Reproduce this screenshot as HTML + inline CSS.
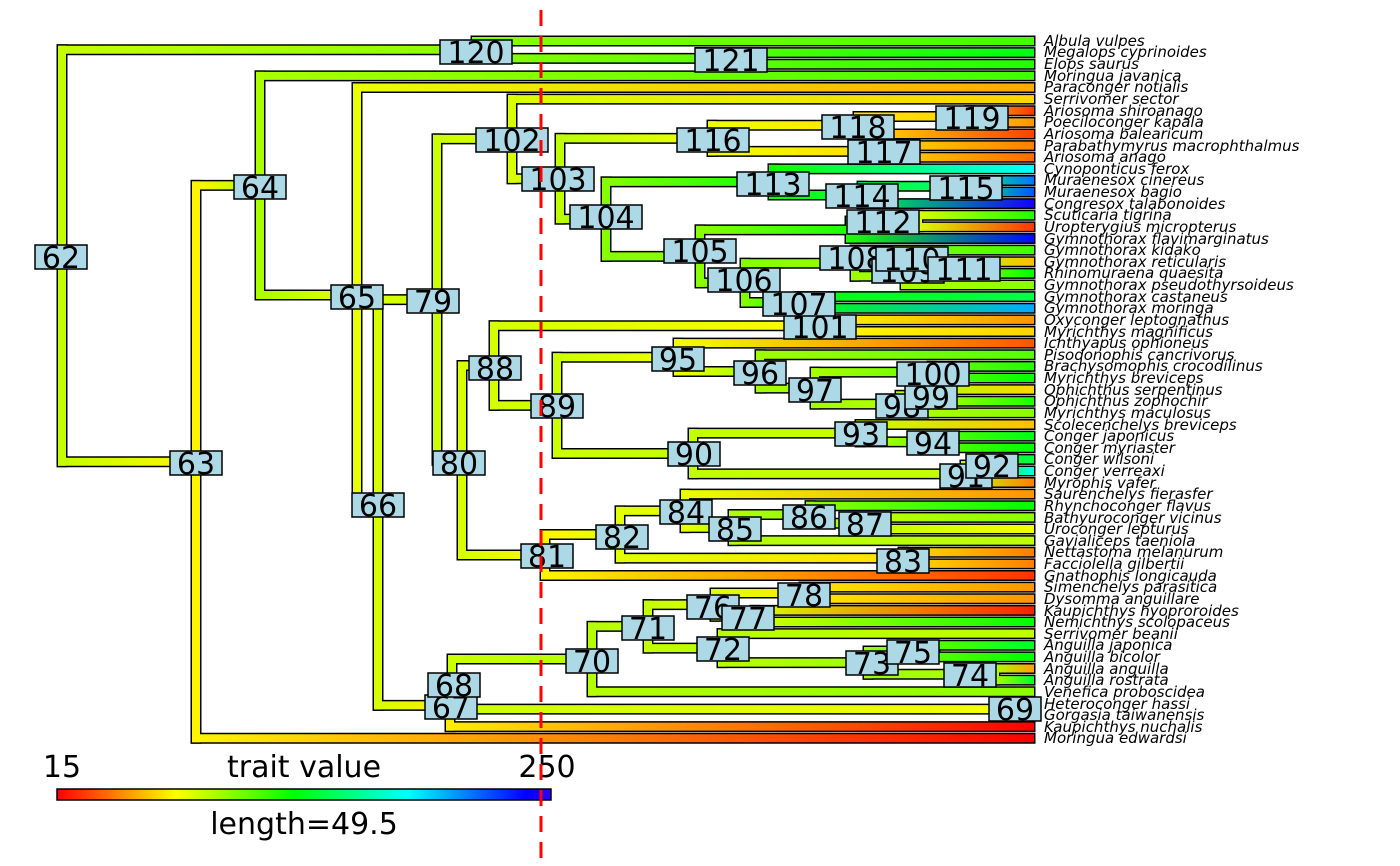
<!DOCTYPE html>
<html><head><meta charset="utf-8">
<style>
html,body{margin:0;padding:0;background:#fff;}
svg{display:block;}
.tl{font-family:"DejaVu Sans","Liberation Sans",sans-serif;font-style:italic;font-size:15px;fill:#000;}
.nl text{font-family:"DejaVu Sans","Liberation Sans",sans-serif;font-size:30px;fill:#000;text-anchor:middle;}
.nl rect{fill:#add8e6;stroke:#000;stroke-width:1.5;}
.bt{font-family:"DejaVu Sans","Liberation Sans",sans-serif;font-size:30px;fill:#000;text-anchor:middle;}
</style></head>
<body>
<svg id="s" width="1400" height="866" viewBox="0 0 1400 866" xmlns="http://www.w3.org/2000/svg">
<defs id="defs">
<linearGradient id="cb" x1="0" x2="1" y1="0" y2="0">
<stop offset="0" stop-color="#ff0000"/><stop offset="0.24" stop-color="#ffff00"/><stop offset="0.48" stop-color="#00ff00"/><stop offset="0.71" stop-color="#00ffff"/><stop offset="0.95" stop-color="#0000ff"/><stop offset="1" stop-color="#2a00ff"/>
</linearGradient>
</defs>
<g id="edges"></g>
<g class="tl">
<text x="1044" y="46">Albula vulpes</text>
<text x="1044" y="57">Megalops cyprinoides</text>
<text x="1044" y="69">Elops saurus</text>
<text x="1044" y="81">Moringua javanica</text>
<text x="1044" y="92">Paraconger notialis</text>
<text x="1044" y="104">Serrivomer sector</text>
<text x="1044" y="116">Ariosoma shiroanago</text>
<text x="1044" y="127">Poeciloconger kapala</text>
<text x="1044" y="139">Ariosoma balearicum</text>
<text x="1044" y="151">Parabathymyrus macrophthalmus</text>
<text x="1044" y="162">Ariosoma anago</text>
<text x="1044" y="174">Cynoponticus ferox</text>
<text x="1044" y="185">Muraenesox cinereus</text>
<text x="1044" y="197">Muraenesox bagio</text>
<text x="1044" y="209">Congresox talabonoides</text>
<text x="1044" y="220">Scuticaria tigrina</text>
<text x="1044" y="232">Uropterygius micropterus</text>
<text x="1044" y="244">Gymnothorax flavimarginatus</text>
<text x="1044" y="255">Gymnothorax kidako</text>
<text x="1044" y="267">Gymnothorax reticularis</text>
<text x="1044" y="278">Rhinomuraena quaesita</text>
<text x="1044" y="290">Gymnothorax pseudothyrsoideus</text>
<text x="1044" y="302">Gymnothorax castaneus</text>
<text x="1044" y="313">Gymnothorax moringa</text>
<text x="1044" y="325">Oxyconger leptognathus</text>
<text x="1044" y="337">Myrichthys magnificus</text>
<text x="1044" y="348">Ichthyapus ophioneus</text>
<text x="1044" y="360">Pisodonophis cancrivorus</text>
<text x="1044" y="371">Brachysomophis crocodilinus</text>
<text x="1044" y="383">Myrichthys breviceps</text>
<text x="1044" y="395">Ophichthus serpentinus</text>
<text x="1044" y="406">Ophichthus zophochir</text>
<text x="1044" y="418">Myrichthys maculosus</text>
<text x="1044" y="430">Scolecenchelys breviceps</text>
<text x="1044" y="441">Conger japonicus</text>
<text x="1044" y="453">Conger myriaster</text>
<text x="1044" y="464">Conger wilsoni</text>
<text x="1044" y="476">Conger verreaxi</text>
<text x="1044" y="488">Myrophis vafer</text>
<text x="1044" y="499">Saurenchelys fierasfer</text>
<text x="1044" y="511">Rhynchoconger flavus</text>
<text x="1044" y="523">Bathyuroconger vicinus</text>
<text x="1044" y="534">Uroconger lepturus</text>
<text x="1044" y="546">Gavialiceps taeniola</text>
<text x="1044" y="557">Nettastoma melanurum</text>
<text x="1044" y="569">Facciolella gilbertii</text>
<text x="1044" y="581">Gnathophis longicauda</text>
<text x="1044" y="592">Simenchelys parasitica</text>
<text x="1044" y="604">Dysomma anguillare</text>
<text x="1044" y="616">Kaupichthys hyoproroides</text>
<text x="1044" y="627">Nemichthys scolopaceus</text>
<text x="1044" y="639">Serrivomer beanii</text>
<text x="1044" y="650">Anguilla japonica</text>
<text x="1044" y="662">Anguilla bicolor</text>
<text x="1044" y="674">Anguilla anguilla</text>
<text x="1044" y="685">Anguilla rostrata</text>
<text x="1044" y="697">Venefica proboscidea</text>
<text x="1044" y="709">Heteroconger hassi</text>
<text x="1044" y="720">Gorgasia taiwanensis</text>
<text x="1044" y="732">Kaupichthys nuchalis</text>
<text x="1044" y="743">Moringua edwardsi</text>
</g>
<g class="nl" id="nstatic">
<rect x="35" y="245" width="52" height="24"/><text x="61" y="268">62</text>
<rect x="170" y="451" width="52" height="24"/><text x="196" y="474">63</text>
<rect x="234" y="175" width="52" height="24"/><text x="260" y="198">64</text>
<rect x="331" y="285" width="52" height="24"/><text x="357" y="308">65</text>
<rect x="352" y="493" width="52" height="24"/><text x="378" y="516">66</text>
<rect x="425" y="695" width="52" height="24"/><text x="451" y="718">67</text>
<rect x="428" y="673" width="52" height="24"/><text x="454" y="696">68</text>
<rect x="989" y="697" width="52" height="24"/><text x="1015" y="720">69</text>
<rect x="566" y="649" width="52" height="24"/><text x="592" y="672">70</text>
<rect x="622" y="616" width="52" height="24"/><text x="648" y="639">71</text>
<rect x="697" y="637" width="52" height="24"/><text x="723" y="660">72</text>
<rect x="846" y="651" width="52" height="24"/><text x="872" y="674">73</text>
<rect x="944" y="663" width="52" height="24"/><text x="970" y="686">74</text>
<rect x="887" y="640" width="52" height="24"/><text x="913" y="663">75</text>
<rect x="687" y="595" width="52" height="24"/><text x="713" y="618">76</text>
<rect x="722" y="606" width="52" height="24"/><text x="748" y="629">77</text>
<rect x="778" y="583" width="52" height="24"/><text x="804" y="606">78</text>
<rect x="407" y="289" width="52" height="24"/><text x="433" y="312">79</text>
<rect x="433" y="451" width="52" height="24"/><text x="459" y="474">80</text>
<rect x="521" y="544" width="52" height="24"/><text x="547" y="567">81</text>
<rect x="596" y="525" width="52" height="24"/><text x="622" y="548">82</text>
<rect x="877" y="549" width="52" height="24"/><text x="903" y="572">83</text>
<rect x="660" y="500" width="52" height="24"/><text x="686" y="523">84</text>
<rect x="709" y="517" width="52" height="24"/><text x="735" y="540">85</text>
<rect x="783" y="505" width="52" height="24"/><text x="809" y="528">86</text>
<rect x="839" y="512" width="52" height="24"/><text x="865" y="535">87</text>
<rect x="469" y="356" width="52" height="24"/><text x="495" y="379">88</text>
<rect x="531" y="394" width="52" height="24"/><text x="557" y="417">89</text>
<rect x="668" y="442" width="52" height="24"/><text x="694" y="465">90</text>
<rect x="940" y="464" width="52" height="24"/><text x="966" y="487">91</text>
<rect x="966" y="454" width="52" height="24"/><text x="992" y="477">92</text>
<rect x="835" y="422" width="52" height="24"/><text x="861" y="445">93</text>
<rect x="907" y="431" width="52" height="24"/><text x="933" y="454">94</text>
<rect x="652" y="347" width="52" height="24"/><text x="678" y="370">95</text>
<rect x="734" y="361" width="52" height="24"/><text x="760" y="384">96</text>
<rect x="789" y="378" width="52" height="24"/><text x="815" y="401">97</text>
<rect x="876" y="394" width="52" height="24"/><text x="902" y="417">98</text>
<rect x="905" y="385" width="52" height="24"/><text x="931" y="408">99</text>
<rect x="897" y="362" width="72" height="24"/><text x="933" y="385">100</text>
<rect x="784" y="315" width="72" height="24"/><text x="820" y="338">101</text>
<rect x="476" y="128" width="72" height="24"/><text x="512" y="151">102</text>
<rect x="522" y="167" width="72" height="24"/><text x="558" y="190">103</text>
<rect x="570" y="205" width="72" height="24"/><text x="606" y="228">104</text>
<rect x="664" y="239" width="72" height="24"/><text x="700" y="262">105</text>
<rect x="708" y="268" width="72" height="24"/><text x="744" y="291">106</text>
<rect x="763" y="292" width="72" height="24"/><text x="799" y="315">107</text>
<rect x="820" y="246" width="72" height="24"/><text x="856" y="269">108</text>
<rect x="872" y="259" width="72" height="24"/><text x="908" y="282">109</text>
<rect x="876" y="247" width="72" height="24"/><text x="912" y="270">110</text>
<rect x="928" y="257" width="72" height="24"/><text x="964" y="280">111</text>
<rect x="847" y="210" width="72" height="24"/><text x="883" y="233">112</text>
<rect x="737" y="172" width="72" height="24"/><text x="773" y="195">113</text>
<rect x="826" y="184" width="72" height="24"/><text x="862" y="207">114</text>
<rect x="930" y="176" width="72" height="24"/><text x="966" y="199">115</text>
<rect x="677" y="128" width="72" height="24"/><text x="713" y="151">116</text>
<rect x="848" y="140" width="72" height="24"/><text x="884" y="163">117</text>
<rect x="822" y="115" width="72" height="24"/><text x="858" y="138">118</text>
<rect x="936" y="106" width="72" height="24"/><text x="972" y="129">119</text>
<rect x="440" y="40" width="72" height="24"/><text x="476" y="63">120</text>
<rect x="695" y="48" width="72" height="24"/><text x="731" y="71">121</text>
</g>
<rect x="57" y="789" width="494" height="11" fill="url(#cb)" stroke="#000" stroke-width="1.5"/>
<text class="bt" x="62" y="777">15</text>
<text class="bt" x="304" y="777">trait value</text>
<text class="bt" x="547" y="777">250</text>
<text class="bt" x="304" y="834">length=49.5</text>
<line x1="541" y1="10" x2="541" y2="858" stroke="#ff0000" stroke-width="3" stroke-dasharray="16,10"/>
</svg>
<script>
(function(){
var NS="http://www.w3.org/2000/svg";
var tv=[0.42,0.5,0.45,0.42,0.16,0.2,0.05,0.14,0.06,0.12,0.1,0.72,0.85,0.88,0.98,0.45,0.05,0.95,0.42,0.18,0.48,0.35,0.55,0.8,0.14,0.2,0.08,0.4,0.45,0.48,0.2,0.45,0.35,0.18,0.5,0.48,0.55,0.7,0.12,0.14,0.48,0.35,0.25,0.3,0.12,0.12,0.05,0.14,0.14,0.03,0.48,0.3,0.52,0.48,0.15,0.52,0.35,0.15,0.24,0.0,0.0];
function ty(i){return 41+i*11.62;}
var N={
62:[62,257,[120,63]],
120:[476,52,[1000,121]],
121:[700,58,[1001,1002]],
63:[196,462,[64,1060]],
64:[260,186,[1003,65]],
65:[357,296,[1004,66]],
66:[378,504,[79,67]],
79:[437,300,[102,80]],
102:[512,140,[1005,103]],
103:[560,178,[116,104]],
116:[712,140,[118,117]],
118:[858,127,[119,1008]],
119:[970,118,[1006,1007]],
117:[884,152,[1009,1010]],
104:[606,217,[113,105]],
113:[773,183,[1011,114]],
114:[862,196,[115,1014]],
115:[965,188,[1012,1013]],
105:[700,250,[112,106]],
112:[850,227,[1112,1017]],
1112:[918,221,[1015,1016]],
106:[745,280,[108,107]],
108:[855,262,[1018,109]],
109:[905,274,[111,1021]],
111:[955,267,[1019,1020]],
107:[800,302,[1022,1023]],
80:[462,462,[88,81]],
88:[494,368,[101,89]],
101:[820,326,[1024,1025]],
89:[557,405,[95,90]],
95:[678,358,[1026,96]],
96:[760,373,[1027,97]],
97:[815,390,[100,98]],
100:[932,372,[1028,1029]],
98:[900,405,[99,1032]],
99:[930,395,[1030,1031]],
90:[693,453,[93,91]],
93:[860,433,[1033,94]],
94:[932,442,[1034,1035]],
91:[965,476,[92,1038]],
92:[990,465,[1036,1037]],
81:[545,555,[82,1046]],
82:[620,536,[84,83]],
84:[685,511,[1039,85]],
85:[733,528,[86,1043]],
86:[810,514,[1040,87]],
87:[865,523,[1041,1042]],
83:[903,558,[1044,1045]],
67:[450,706,[68,1059]],
68:[452,684,[70,69]],
69:[1010,708,[1057,1058]],
70:[592,660,[71,1056]],
71:[648,624,[76,72]],
76:[715,602,[78,77]],
78:[804,593,[1047,1048]],
77:[755,616,[1049,1050]],
72:[722,648,[1051,73]],
73:[868,662,[75,74]],
75:[935,651,[1052,1053]],
74:[995,674,[1054,1055]]
};
function isTip(c){return c>=1000&&c<1100;}
var val={};
function V(id){
 if(isTip(id)) return tv[id-1000];
 if(val[id]!==undefined) return val[id];
 var ch=N[id][2],s=0;ch.forEach(function(c){s+=V(c);});
 var v=0.5*(s/ch.length)+0.5*0.3; val[id]=v; return v;
}
function P(id){ if(isTip(id)) return [1034,ty(id-1000)]; return [N[id][0],N[id][1]]; }
function fixY(id){
 if(isTip(id)) return ty(id-1000);
 var ys=N[id][2].map(fixY); N[id][1]=(Math.min.apply(null,ys)+Math.max.apply(null,ys))/2; return N[id][1];
}
fixY(62);
function col(v){
 v=Math.max(0,Math.min(1,v)); var h=v*250;
 return "hsl("+h.toFixed(1)+",100%,50%)";
}
var defs=document.getElementById("defs"), g=document.getElementById("edges");
var blk=[],clr=[],gi=0;
function line(a,b,c,d,st,w){var l=document.createElementNS(NS,"line");l.setAttribute("x1",a);l.setAttribute("y1",b);l.setAttribute("x2",c);l.setAttribute("y2",d);l.setAttribute("stroke",st);l.setAttribute("stroke-width",w);return l;}
Object.keys(N).forEach(function(k){
 var id=+k,n=N[id],pv=V(id),ys=[];
 n[2].forEach(function(c){
  var p=P(c); ys.push(p[1]);
  var gid="g"+(gi++);
  var lg=document.createElementNS(NS,"linearGradient");
  lg.setAttribute("id",gid);lg.setAttribute("gradientUnits","userSpaceOnUse");
  lg.setAttribute("x1",n[0]);lg.setAttribute("x2",p[0]);lg.setAttribute("y1",0);lg.setAttribute("y2",0);
  var s1=document.createElementNS(NS,"stop");s1.setAttribute("offset","0");s1.setAttribute("stop-color",col(pv));
  var s2=document.createElementNS(NS,"stop");s2.setAttribute("offset","1");s2.setAttribute("stop-color",col(V(c)));
  lg.appendChild(s1);lg.appendChild(s2);defs.appendChild(lg);
  var endB=isTip(c)?1035.5:p[0];
  blk.push(line(n[0]-5.5,p[1],endB,p[1],"#000",11));
  clr.push(line(n[0]-4,p[1],isTip(c)?1034:p[0],p[1],"url(#"+gid+")",8));
 });
 var mn=Math.min.apply(null,ys),mx=Math.max.apply(null,ys);
 blk.push(line(n[0],mn-5.5,n[0],mx+5.5,"#000",11));
 clr.unshift(line(n[0],mn-4,n[0],mx+4,col(pv),8));
});
blk.forEach(function(e){g.appendChild(e);});
clr.forEach(function(e){g.appendChild(e);});
})();
</script>
</body></html>
